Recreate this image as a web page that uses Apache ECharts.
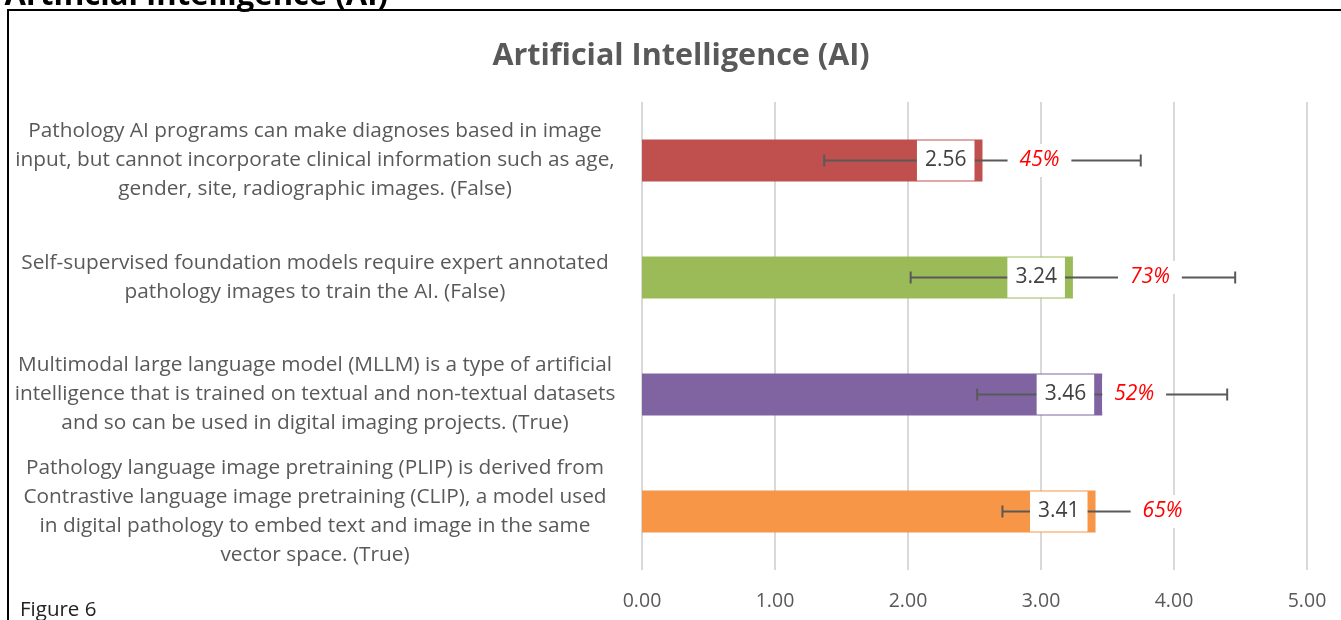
<!DOCTYPE html>
<html>
<head>
<meta charset="utf-8">
<script src="https://cdn.jsdelivr.net/npm/echarts@6/dist/echarts.min.js"></script>
<style>
  html, body { margin: 0; padding: 0; background: #fff; }
  #chart { width: 1341px; height: 620px; }
</style>
</head>
<body>
<div id="chart"></div>
<script>
// statements (top to bottom)
let categories = [
    'Pathology AI programs can make diagnoses based in image\ninput, but cannot incorporate clinical information such as age,\ngender, site, radiographic images. (False)',
    'Self-supervised foundation models require expert annotated\npathology images to train the AI. (False)',
    'Multimodal large language model (MLLM) is a type of artificial\nintelligence that is trained on textual and non-textual datasets\nand so can be used in digital imaging projects. (True)',
    'Pathology language image pretraining (PLIP) is derived from\nContrastive language image pretraining (CLIP), a model used\nin digital pathology to embed text and image in the same\nvector space. (True)'
];
let meanScores = [2.56, 3.24, 3.46, 3.41];
let stdDevs = [1.19, 1.22, 0.94, 0.70];
let pctCorrect = [45, 73, 52, 65];
let xTicks = [0, 1, 2, 3, 4, 5];

let barColors = ['#C0504D', '#9BBB59', '#8064A2', '#F79646'];
let pctOffsets = [57, 77, 32, 67]; // px right of bar end, where the red label sits
let font = '"Open Sans", sans-serif';

let chart = echarts.init(document.getElementById('chart'));

let option = {
    backgroundColor: '#fff',
    animation: false,
    title: {
        text: 'Artificial Intelligence (AI)',
        left: 676,
        textAlign: 'center',
        top: 36,
        textStyle: {
            fontFamily: font,
            fontSize: 30.5,
            fontWeight: 'bold',
            color: '#595959'
        }
    },
    graphic: [
        { // frame of the figure
            type: 'rect',
            shape: { x: 8, y: 10, width: 1400, height: 700 },
            style: { fill: 'none', stroke: '#000', lineWidth: 2 }
        },
        { // heading cut off at the top
            type: 'text',
            x: 388, y: 12,
            style: {
                text: 'Artificial Intelligence (AI)',
                font: 'bold 31px ' + font,
                fill: '#000',
                textAlign: 'right',
                textVerticalAlign: 'bottom'
            }
        },
        {
            type: 'text',
            x: 20, y: 610,
            style: {
                text: 'Figure 6',
                font: '20.5px ' + font,
                fill: '#222',
                textVerticalAlign: 'middle'
            }
        }
    ],
    grid: { left: 642, right: 34, top: 102, bottom: 50 },
    xAxis: {
        type: 'value',
        min: xTicks[0],
        max: xTicks[xTicks.length - 1],
        interval: 1,
        axisLine: { show: false },
        axisTick: { show: false },
        axisLabel: {
            margin: 21,
            fontFamily: font,
            fontSize: 19.5,
            color: '#595959',
            formatter: v => v.toFixed(2)
        },
        splitLine: { lineStyle: { color: '#d9d9d9', width: 2 } }
    },
    yAxis: {
        type: 'category',
        inverse: true,
        data: categories,
        axisLine: { show: false },
        axisTick: { show: false },
        axisLabel: {
            align: 'center',
            margin: 327,
            lineHeight: 29,
            fontFamily: font,
            fontSize: 20.8,
            color: '#595959'
        }
    },
    series: [
        {
            type: 'bar',
            barWidth: 42,
            z: 2,
            data: meanScores.map((v, i) => ({ value: v, itemStyle: { color: barColors[i] } }))
        },
        { // error bars + labels on top of them
            type: 'custom',
            z: 5,
            data: meanScores.map((v, i) => [v, i, stdDevs[i], pctCorrect[i]]),
            encode: { x: 0, y: 1 },
            renderItem: function (params, api) {
                let mean = api.value(0);
                let idx = api.value(1);
                let err = api.value(2);
                let pct = api.value(3);
                let lo = api.coord([mean - err, idx]);
                let hi = api.coord([mean + err, idx]);
                let end = api.coord([mean, idx]);
                let cap = 6;
                let lineStyle = { stroke: '#595959', lineWidth: 2 };
                return {
                    type: 'group',
                    children: [
                        { type: 'line', shape: { x1: lo[0], y1: lo[1], x2: hi[0], y2: hi[1] }, style: lineStyle },
                        { type: 'line', shape: { x1: lo[0], y1: lo[1] - cap, x2: lo[0], y2: lo[1] + cap }, style: lineStyle },
                        { type: 'line', shape: { x1: hi[0], y1: hi[1] - cap, x2: hi[0], y2: hi[1] + cap }, style: lineStyle },
                        {
                            type: 'text',
                            x: end[0] - 8, y: end[1],
                            style: {
                                text: mean.toFixed(2),
                                font: '21px ' + font,
                                fill: '#404040',
                                textAlign: 'right',
                                textVerticalAlign: 'middle',
                                backgroundColor: '#fff',
                                padding: [10, 8, 9, 8]
                            }
                        },
                        {
                            type: 'text',
                            x: end[0] + pctOffsets[params.dataIndex], y: end[1],
                            style: {
                                text: pct + '%',
                                font: 'italic 21px ' + font,
                                fill: '#FF0000',
                                textAlign: 'center',
                                textVerticalAlign: 'middle',
                                backgroundColor: '#fff',
                                padding: [6, 12]
                            }
                        }
                    ]
                };
            }
        }
    ]
};

chart.setOption(option);
</script>
</body>
</html>
